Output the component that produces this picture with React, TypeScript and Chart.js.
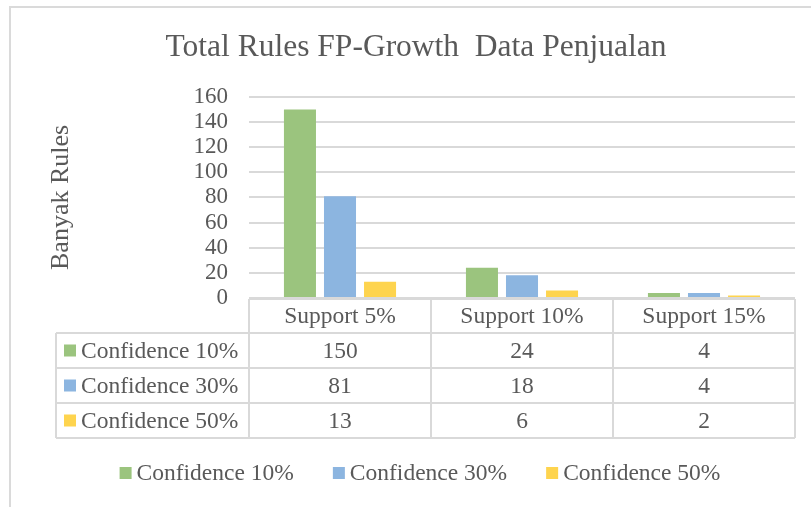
import React, { useEffect, useRef } from 'react';
import { Chart, registerables } from 'chart.js';

Chart.register(...registerables);

const FONT = "'Liberation Serif', 'Times New Roman', serif";
const TEXT = '#595959';
const GRID = '#d9d9d9';

const titleText = 'Total Rules FP-Growth  Data Penjualan';
const yAxisTitle = 'Banyak Rules';
const categories = ['Support 5%', 'Support 10%', 'Support 15%'];
const seriesNames = ['Confidence 10%', 'Confidence 30%', 'Confidence 50%'];
const confidence10 = [150, 24, 4];
const confidence30 = [81, 18, 4];
const confidence50 = [13, 6, 2];
const seriesColors = ['#9bc47e', '#8cb5e0', '#fed44e'];
const yMin = 0;
const yMax = 160;
const yStep = 20;

const TABLE_FONT = 23.5;

const framePlugin = {
  id: 'frame',
  beforeDraw(chart: any) {
    const { ctx, width, height } = chart;
    ctx.save();
    ctx.fillStyle = '#ffffff';
    ctx.fillRect(0, 0, width, height);
    ctx.strokeStyle = '#dadada';
    ctx.lineWidth = 2;
    ctx.beginPath();
    ctx.moveTo(10, height + 5);
    ctx.lineTo(10, 7);
    ctx.lineTo(width + 5, 7);
    ctx.stroke();
    ctx.restore();
  },
};

const tablePlugin = {
  id: 'dataTable',
  afterDraw(chart: any) {
    const { ctx, chartArea, scales } = chart;
    const xs = scales.x;
    const labels: string[] = chart.data.labels;
    const ds = chart.data.datasets;
    const n = labels.length;
    const colW = (chartArea.right - chartArea.left) / n;
    const top = chartArea.bottom + 1;
    const headH = 34;
    const rowH = 35;
    const leftX = 56;
    const bottom = top + headH + rowH * ds.length;

    ctx.save();
    ctx.strokeStyle = GRID;
    ctx.lineWidth = 2;
    ctx.beginPath();
    ctx.moveTo(chartArea.left, top);
    ctx.lineTo(chartArea.right, top);
    for (let r = 0; r <= ds.length; r++) {
      const y = top + headH + r * rowH;
      ctx.moveTo(leftX, y);
      ctx.lineTo(chartArea.right, y);
    }
    ctx.moveTo(leftX, top + headH);
    ctx.lineTo(leftX, bottom);
    for (let c = 0; c <= n; c++) {
      const x = chartArea.left + c * colW;
      ctx.moveTo(x, top);
      ctx.lineTo(x, bottom);
    }
    ctx.stroke();

    ctx.font = `${TABLE_FONT}px ${FONT}`;
    ctx.textBaseline = 'middle';
    ctx.textAlign = 'center';
    ctx.fillStyle = TEXT;
    labels.forEach((l, i) => ctx.fillText(l, xs.getPixelForValue(i), top + headH / 2 + 1));
    ds.forEach((d: any, r: number) => {
      const yc = top + headH + r * rowH + rowH / 2;
      ctx.textAlign = 'center';
      ctx.fillStyle = TEXT;
      d.data.forEach((v: number, i: number) => ctx.fillText(String(v), xs.getPixelForValue(i), yc + 1));
      ctx.fillStyle = d.backgroundColor;
      ctx.fillRect(64, yc - 6, 12, 12);
      ctx.fillStyle = TEXT;
      ctx.textAlign = 'left';
      ctx.fillText(d.label, 81, yc + 1);
    });

    // bottom legend
    const boxW = 12;
    const gapBoxText = 5;
    const gapItems = 39;
    const widths = ds.map((d: any) => ctx.measureText(d.label).width);
    const total = widths.reduce((a: number, w: number) => a + boxW + gapBoxText + w, 0) + gapItems * (ds.length - 1);
    let x = 420 - total / 2;
    const ly = 473;
    ds.forEach((d: any, i: number) => {
      ctx.fillStyle = d.backgroundColor;
      ctx.fillRect(x, ly - 6, boxW, boxW);
      ctx.fillStyle = TEXT;
      ctx.textAlign = 'left';
      ctx.fillText(d.label, x + boxW + gapBoxText, ly + 1);
      x += boxW + gapBoxText + widths[i] + gapItems;
    });
    ctx.restore();
  },
};

export default function App() {
  const canvasRef = useRef<HTMLCanvasElement | null>(null);

  useEffect(() => {
    if (!canvasRef.current) return;
    const chart = new Chart(canvasRef.current, {
      type: 'bar',
      data: {
        labels: categories,
        datasets: [
          { label: seriesNames[0], data: confidence10, backgroundColor: seriesColors[0] },
          { label: seriesNames[1], data: confidence30, backgroundColor: seriesColors[1] },
          { label: seriesNames[2], data: confidence50, backgroundColor: seriesColors[2] },
        ],
      },
      options: {
        responsive: false,
        devicePixelRatio: 1,
        animation: false,
        layout: { padding: { left: 21, right: 0, top: 0, bottom: 0 } },
        datasets: { bar: { categoryPercentage: 0.66, barPercentage: 0.8 } },
        plugins: {
          legend: { display: false },
          tooltip: { enabled: false },
          title: {
            display: true,
            text: titleText,
            color: TEXT,
            font: { family: FONT, size: 31.5, weight: 'normal', lineHeight: 1.2 },
            padding: { top: 29, bottom: 30 },
          },
        },
        scales: {
          x: {
            grid: { display: false },
            border: { display: false },
            ticks: { display: false },
            afterFit(scale: any) { scale.height = 209; },
          },
          y: {
            min: yMin,
            max: yMax,
            ticks: {
              stepSize: yStep,
              autoSkip: false,
              color: TEXT,
              padding: 21,
              font: { family: FONT, size: 23 },
            },
            grid: { color: GRID, lineWidth: 2, drawTicks: false },
            border: { display: false },
            title: {
              display: true,
              text: yAxisTitle,
              color: TEXT,
              font: { family: FONT, size: 26, weight: 'normal', lineHeight: 1.2 },
              padding: { top: 25, bottom: 0 },
            },
            afterFit(scale: any) { scale.width = 228; },
          },
          yRightSpace: {
            type: 'linear',
            position: 'right',
            display: true,
            grid: { display: false },
            border: { display: false },
            ticks: { display: false },
            afterFit(scale: any) { scale.width = 16; },
          },
        },
      },
      plugins: [framePlugin, tablePlugin],
    } as any);
    return () => chart.destroy();
  }, []);

  return (
    <div style={{ position: 'absolute', left: 0, top: 0, width: 811, height: 507 }}>
      <canvas ref={canvasRef} width={811} height={507} style={{ width: 811, height: 507, display: 'block' }} />
    </div>
  );
}
